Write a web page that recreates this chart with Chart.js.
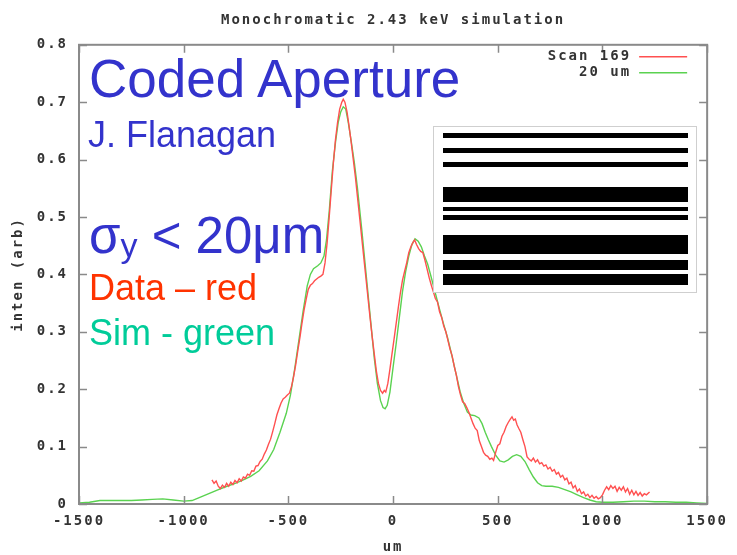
<!DOCTYPE html>
<html>
<head>
<meta charset="utf-8">
<script src="https://cdn.jsdelivr.net/npm/chart.js@4.4.1/dist/chart.umd.min.js"></script>
<style>
  body { margin: 0; background: #fff; }
  #wrap { position: relative; width: 737px; height: 555px; }
  #plot { position: absolute; left: 0; top: 0; }
  .note {
    position: absolute;
    font-family: "Liberation Sans", Arial, sans-serif;
    line-height: 1;
    white-space: nowrap;
  }
  .blue { color: #3333cc; }
  .sub { font-size: 34px; line-height: 0; position: relative; top: 4px; }
  #mask {
    position: absolute; left: 433px; top: 126px; width: 262px; height: 165px;
    background: #fff; border: 1px solid #cfcfcf;
  }
  #mask div { position: absolute; left: 9px; width: 245px; background: #000; }
</style>
</head>
<body>
<div id="wrap">
  <canvas id="plot" width="737" height="555"></canvas>

  <div class="note blue" style="left:89px; top:52px; font-size:53px;">Coded Aperture</div>
  <div class="note blue" style="left:88px; top:117px; font-size:36px;">J. Flanagan</div>
  <div class="note blue" style="left:89px; top:210px; font-size:51px;">σ<span class="sub">y</span> &lt; 20μm</div>
  <div class="note" style="left:89px; top:270px; font-size:36px; color:#ff3300;">Data – red</div>
  <div class="note" style="left:89px; top:315px; font-size:36px; color:#00cc99;">Sim - green</div>

  <!-- coded aperture mask pattern -->
  <div id="mask">
    <div style="top:6px; height:5px;"></div>
    <div style="top:21px; height:5px;"></div>
    <div style="top:35px; height:5px;"></div>
    <div style="top:60px; height:15px;"></div>
    <div style="top:80px; height:4px;"></div>
    <div style="top:88px; height:5px;"></div>
    <div style="top:108px; height:19px;"></div>
    <div style="top:133px; height:10px;"></div>
    <div style="top:147px; height:11px;"></div>
  </div>
</div>

<script>
// measured profile, scan 169
const scanX = [
  -865, -855, -845, -835, -825, -815, -805, -795, -785, -775, -765, -755, -745, -735, -725,
  -715, -705, -695, -685, -675, -665, -655, -645, -635, -625, -615, -605, -595, -585, -575,
  -565, -555, -545, -535, -525, -515, -505, -495, -485, -475, -465, -455, -445, -435, -425,
  -415, -405, -395, -385, -375, -365, -355, -345, -335, -325, -315, -305, -295, -285, -275,
  -265, -255, -245, -238, -230, -220, -210, -200, -190, -180, -170, -160, -150, -140, -130,
  -120, -110, -100, -90, -80, -70, -60, -50, -42, -35, -25, -15, -5, 5, 15,
  25, 35, 45, 55, 65, 75, 85, 95, 103, 112, 122, 132, 142, 152, 162,
  172, 182, 192, 202, 212, 222, 232, 242, 252, 262, 272, 282, 292, 302, 312,
  322, 332, 342, 352, 362, 372, 382, 392, 402, 412, 422, 432, 442, 452, 462,
  472, 480, 490, 500, 510, 520, 530, 540, 550, 560, 568, 576, 584, 592, 600,
  610, 620, 630, 640, 650, 660, 670, 680, 690, 700, 710, 720, 730, 740, 750,
  760, 770, 780, 790, 800, 810, 820, 830, 840, 850, 860, 870, 880, 890, 900,
  910, 920, 930, 940, 950, 960, 970, 980, 990, 1000, 1010, 1020, 1030, 1040, 1050,
  1060, 1070, 1080, 1090, 1100, 1110, 1120, 1130, 1140, 1150, 1160, 1170, 1180, 1190, 1200,
  1210, 1225
];
const scanY = [
  0.042, 0.036, 0.040, 0.031, 0.027, 0.033, 0.029, 0.036, 0.031, 0.038, 0.034, 0.041, 0.037, 0.044, 0.040,
  0.047, 0.045, 0.052, 0.050, 0.058, 0.057, 0.066, 0.067, 0.074, 0.078, 0.087, 0.094, 0.104, 0.113, 0.126,
  0.140, 0.155, 0.166, 0.176, 0.183, 0.186, 0.190, 0.193, 0.205, 0.222, 0.243, 0.267, 0.290, 0.315, 0.338,
  0.357, 0.374, 0.381, 0.384, 0.389, 0.392, 0.395, 0.397, 0.400, 0.420, 0.455, 0.500, 0.548, 0.595, 0.635,
  0.665, 0.688, 0.700, 0.705, 0.700, 0.683, 0.658, 0.630, 0.600, 0.570, 0.535, 0.500, 0.465, 0.430, 0.395,
  0.360, 0.325, 0.292, 0.262, 0.232, 0.210, 0.198, 0.193, 0.198, 0.195, 0.210, 0.235, 0.262, 0.288, 0.315,
  0.342, 0.368, 0.390, 0.405, 0.420, 0.438, 0.448, 0.456, 0.460, 0.452, 0.445, 0.440, 0.438, 0.425, 0.410,
  0.395, 0.382, 0.370, 0.358, 0.352, 0.335, 0.325, 0.310, 0.300, 0.285, 0.270, 0.258, 0.240, 0.225, 0.205,
  0.190, 0.178, 0.175, 0.168, 0.160, 0.150, 0.140, 0.132, 0.128, 0.110, 0.100, 0.090, 0.085, 0.083, 0.078,
  0.080, 0.076, 0.090, 0.102, 0.105, 0.118, 0.125, 0.135, 0.142, 0.148, 0.152, 0.146, 0.148, 0.138, 0.132,
  0.125, 0.112, 0.100, 0.082, 0.078, 0.075, 0.080, 0.073, 0.077, 0.070, 0.072, 0.066, 0.068, 0.061, 0.064,
  0.057, 0.060, 0.052, 0.055, 0.047, 0.050, 0.042, 0.045, 0.035, 0.038, 0.028, 0.032, 0.022, 0.026, 0.018,
  0.021, 0.014, 0.017, 0.011, 0.015, 0.010, 0.013, 0.009, 0.011, 0.016, 0.024, 0.030, 0.025, 0.032, 0.027,
  0.031, 0.022, 0.029, 0.024, 0.030, 0.021, 0.027, 0.017, 0.024, 0.016, 0.022, 0.015, 0.020, 0.014, 0.018,
  0.016, 0.021
];

// simulated profile, 20 um beam size
const simX = [
  -1500, -1450, -1400, -1350, -1300, -1250, -1200, -1150, -1100, -1050, -1000, -960, -920, -880, -840,
  -800, -760, -720, -680, -640, -600, -570, -540, -510, -490, -470, -450, -430, -410, -395,
  -380, -360, -345, -330, -318, -305, -290, -275, -262, -250, -238, -226, -214, -200, -185,
  -170, -150, -130, -110, -90, -75, -60, -48, -38, -28, -15, 0, 15, 30, 45,
  60, 75, 90, 105, 120, 135, 150, 165, 180, 200, 220, 240, 260, 280, 300,
  320, 337, 355, 372, 390, 410, 425, 440, 455, 470, 490, 510, 530, 550, 570,
  590, 610, 630, 650, 670, 690, 710, 730, 760, 790, 820, 850, 880, 910, 940,
  970, 1000, 1050, 1100, 1150, 1200, 1250, 1300, 1350, 1400, 1450, 1500
];
const simY = [
  0.002, 0.003, 0.006, 0.006, 0.006, 0.006, 0.007, 0.008, 0.009, 0.007, 0.005, 0.006, 0.012, 0.018, 0.024,
  0.030, 0.035, 0.041, 0.048, 0.058, 0.075, 0.095, 0.125, 0.158, 0.190, 0.235, 0.285, 0.335, 0.380, 0.400,
  0.410, 0.415, 0.420, 0.432, 0.460, 0.510, 0.580, 0.630, 0.665, 0.683, 0.692, 0.688, 0.665, 0.632, 0.595,
  0.550, 0.480, 0.405, 0.330, 0.255, 0.210, 0.180, 0.168, 0.166, 0.172, 0.195, 0.238, 0.280, 0.325, 0.370,
  0.405, 0.432, 0.452, 0.462, 0.458, 0.448, 0.432, 0.418, 0.398, 0.370, 0.342, 0.315, 0.290, 0.260, 0.228,
  0.196, 0.176, 0.160, 0.155, 0.154, 0.150, 0.140, 0.125, 0.112, 0.100, 0.085, 0.075, 0.073, 0.077, 0.083,
  0.086, 0.083, 0.074, 0.060, 0.047, 0.037, 0.032, 0.031, 0.031, 0.029, 0.025, 0.021, 0.016, 0.011, 0.007,
  0.004, 0.003, 0.003, 0.004, 0.005, 0.005, 0.004, 0.004, 0.003, 0.003, 0.002, 0.001
];

const xRange = [-1500, 1500];
const yRange = [0, 0.8];

const monoFont = "'DejaVu Sans Mono', 'Liberation Mono', monospace";

// gnuplot style: boxed frame, inward ticks on all four sides, key in the corner
const framePlugin = {
  id: 'frame',
  beforeUpdate(chart) { chart.ctx.letterSpacing = '2px'; },
  beforeDraw(chart) { chart.ctx.letterSpacing = '2px'; },
  afterDatasetsDraw(chart) {
    const { ctx, chartArea: a, scales: { x, y } } = chart;
    ctx.save();
    ctx.strokeStyle = '#8a8a8a';
    ctx.lineWidth = 2;
    ctx.strokeRect(a.left, a.top, a.right - a.left, a.bottom - a.top);

    ctx.lineWidth = 1.5;
    ctx.beginPath();
    x.ticks.forEach(t => {
      const px = Math.round(x.getPixelForValue(t.value)) + 0.5;
      ctx.moveTo(px, a.bottom); ctx.lineTo(px, a.bottom - 8);
      ctx.moveTo(px, a.top); ctx.lineTo(px, a.top + 8);
    });
    y.ticks.forEach(t => {
      const py = Math.round(y.getPixelForValue(t.value)) + 0.5;
      ctx.moveTo(a.left, py); ctx.lineTo(a.left + 8, py);
      ctx.moveTo(a.right, py); ctx.lineTo(a.right - 8, py);
    });
    ctx.stroke();

    ctx.font = 'bold 14px ' + monoFont;
    ctx.textAlign = 'right';
    ctx.textBaseline = 'middle';
    chart.data.datasets.forEach((ds, i) => {
      const ky = a.top + 12 + i * 16;
      ctx.fillStyle = '#333';
      ctx.fillText(ds.label, a.right - 76, ky);
      ctx.strokeStyle = ds.borderColor;
      ctx.lineWidth = 1.5;
      ctx.beginPath();
      ctx.moveTo(a.right - 68, ky);
      ctx.lineTo(a.right - 20, ky);
      ctx.stroke();
    });
    ctx.restore();
  }
};

Chart.defaults.font.family = monoFont;
Chart.defaults.font.size = 14;
Chart.defaults.font.weight = 'bold';
Chart.defaults.color = '#333';

const ctx = document.getElementById('plot').getContext('2d');

new Chart(ctx, {
  type: 'line',
  data: {
    datasets: [
      {
        label: 'Scan 169',
        data: scanX.map((v, i) => ({ x: v, y: scanY[i] })),
        borderColor: 'rgb(255,80,80)',
        borderWidth: 1.4,
        pointRadius: 0,
        fill: false
      },
      {
        label: '20 um',
        data: simX.map((v, i) => ({ x: v, y: simY[i] })),
        borderColor: 'rgb(90,210,80)',
        borderWidth: 1.4,
        pointRadius: 0,
        fill: false
      }
    ]
  },
  options: {
    responsive: false,
    animation: false,
    layout: { padding: { left: 0, right: 25, top: 0, bottom: 0 } },
    scales: {
      x: {
        type: 'linear',
        min: xRange[0],
        max: xRange[1],
        grid: { display: false, drawTicks: false },
        border: { display: false },
        ticks: {
          stepSize: 500,
          padding: 9,
          maxRotation: 0,
          callback: v => String(v)
        },
        title: { display: true, text: 'um', padding: { top: 0, bottom: -1 } },
        afterFit: s => { s.height = 51; }
      },
      y: {
        min: yRange[0],
        max: yRange[1],
        grid: { display: false, drawTicks: false },
        border: { display: false },
        ticks: {
          stepSize: 0.1,
          padding: 11,
          callback: v => (v === 0 ? '0' : v.toFixed(1))
        },
        title: { display: true, text: 'inten (arb)', padding: { top: 10, bottom: 0 } },
        afterFit: s => { s.width = 79; }
      }
    },
    plugins: {
      legend: { display: false },
      tooltip: { enabled: false },
      title: {
        display: true,
        fullSize: false,
        text: 'Monochromatic 2.43 keV simulation',
        font: { size: 14, weight: 'bold' },
        color: '#333',
        padding: { top: 12, bottom: 16 }
      }
    }
  },
  plugins: [framePlugin]
});
</script>
</body>
</html>
